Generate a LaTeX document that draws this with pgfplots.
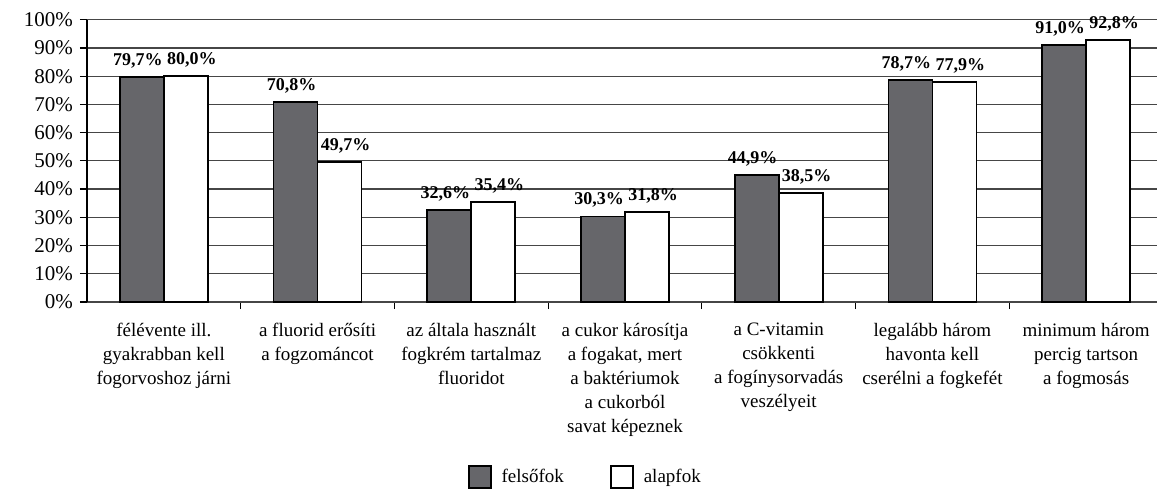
\documentclass[border=0pt]{standalone}
\usepackage{fontspec}
\setmainfont{Liberation Serif}
\usepackage{pgfplots}
\pgfplotsset{compat=1.18}
\definecolor{barfill}{RGB}{102,102,106}
\definecolor{gridc}{RGB}{70,70,70}
\begin{document}
\begin{tikzpicture}
\useasboundingbox (0,0) rectangle (578.5pt,247.5pt);
\begin{axis}[
  at={(43.5pt,96.5pt)}, anchor=south west,
  scale only axis, width=538pt, height=141.15pt,
  xmin=-0.5, xmax=6.5, ymin=0, ymax=100,
  ybar=0pt, bar width=22pt,
  axis x line*=bottom, axis y line*=left,
  x axis line style={gridc, line width=0.6pt},
  y axis line style={black, line width=0.7pt},
  tick align=outside, major tick length=3.5pt,
  tick style={black, line width=0.6pt},
  ytick={0,10,...,100},
  yticklabels={0\%,10\%,20\%,30\%,40\%,50\%,60\%,70\%,80\%,90\%,100\%},
  yticklabel style={font=\fontsize{10.5}{12}\selectfont},
  ymajorgrids, major grid style={gridc, line width=0.6pt},
  xtick={0.5,1.5,2.5,3.5,4.5,5.5},
  xticklabels={},
  extra x ticks={0,1,2,3,4,5,6},
  extra x tick labels={
    {félévente ill.\\gyakrabban kell\\fogorvoshoz járni},
    {a fluorid erősíti\\a fogzománcot},
    {az általa használt\\fogkrém tartalmaz\\fluoridot},
    {a cukor károsítja\\a fogakat, mert\\a baktériumok\\a cukorból\\savat képeznek},
    {a C-vitamin\\csökkenti\\a fogínysorvadás\\veszélyeit},
    {legalább három\\havonta kell\\cserélni a fogkefét},
    {minimum három\\percig tartson\\a fogmosás}},
  extra x tick style={major tick length=0pt},
  xticklabel style={align=center, font=\fontsize{9.5}{12}\selectfont, inner sep=0pt, yshift=-10.5pt},
  nodes near coords={\pgfmathprintnumber[fixed,fixed zerofill,precision=1,use comma,assume math mode=true]{\pgfplotspointmeta}\%},
  nodes near coords style={font=\bfseries\fontsize{9}{10}\selectfont, inner sep=0pt, yshift=4pt, black},
  legend style={at={(0.464,-0.62)}, anchor=center, legend columns=2, draw=none, fill=none,
    font=\fontsize{9.5}{11}\selectfont,
    /tikz/every even column/.append style={column sep=21pt}},
  legend image code/.code={\draw[#1, line width=1pt] (0pt,-5.5pt) rectangle (11pt,5.5pt); \path (14pt,0pt);},
]
\addplot[fill=barfill, draw=black, line width=0.9pt,
  every node near coord/.append style={xshift=-2pt}] coordinates {
  (0,79.7) (1,70.8) (2,32.6) (3,30.3) (4,44.9) (5,78.7) (6,91.0)};
\addplot[fill=white, draw=black, line width=0.9pt,
  every node near coord/.append style={xshift=3pt}] coordinates {
  (0,80.0) (1,49.7) (2,35.4) (3,31.8) (4,38.5) (5,77.9) (6,92.8)};
\legend{felsőfok, alapfok}
\end{axis}
\end{tikzpicture}
\end{document}
